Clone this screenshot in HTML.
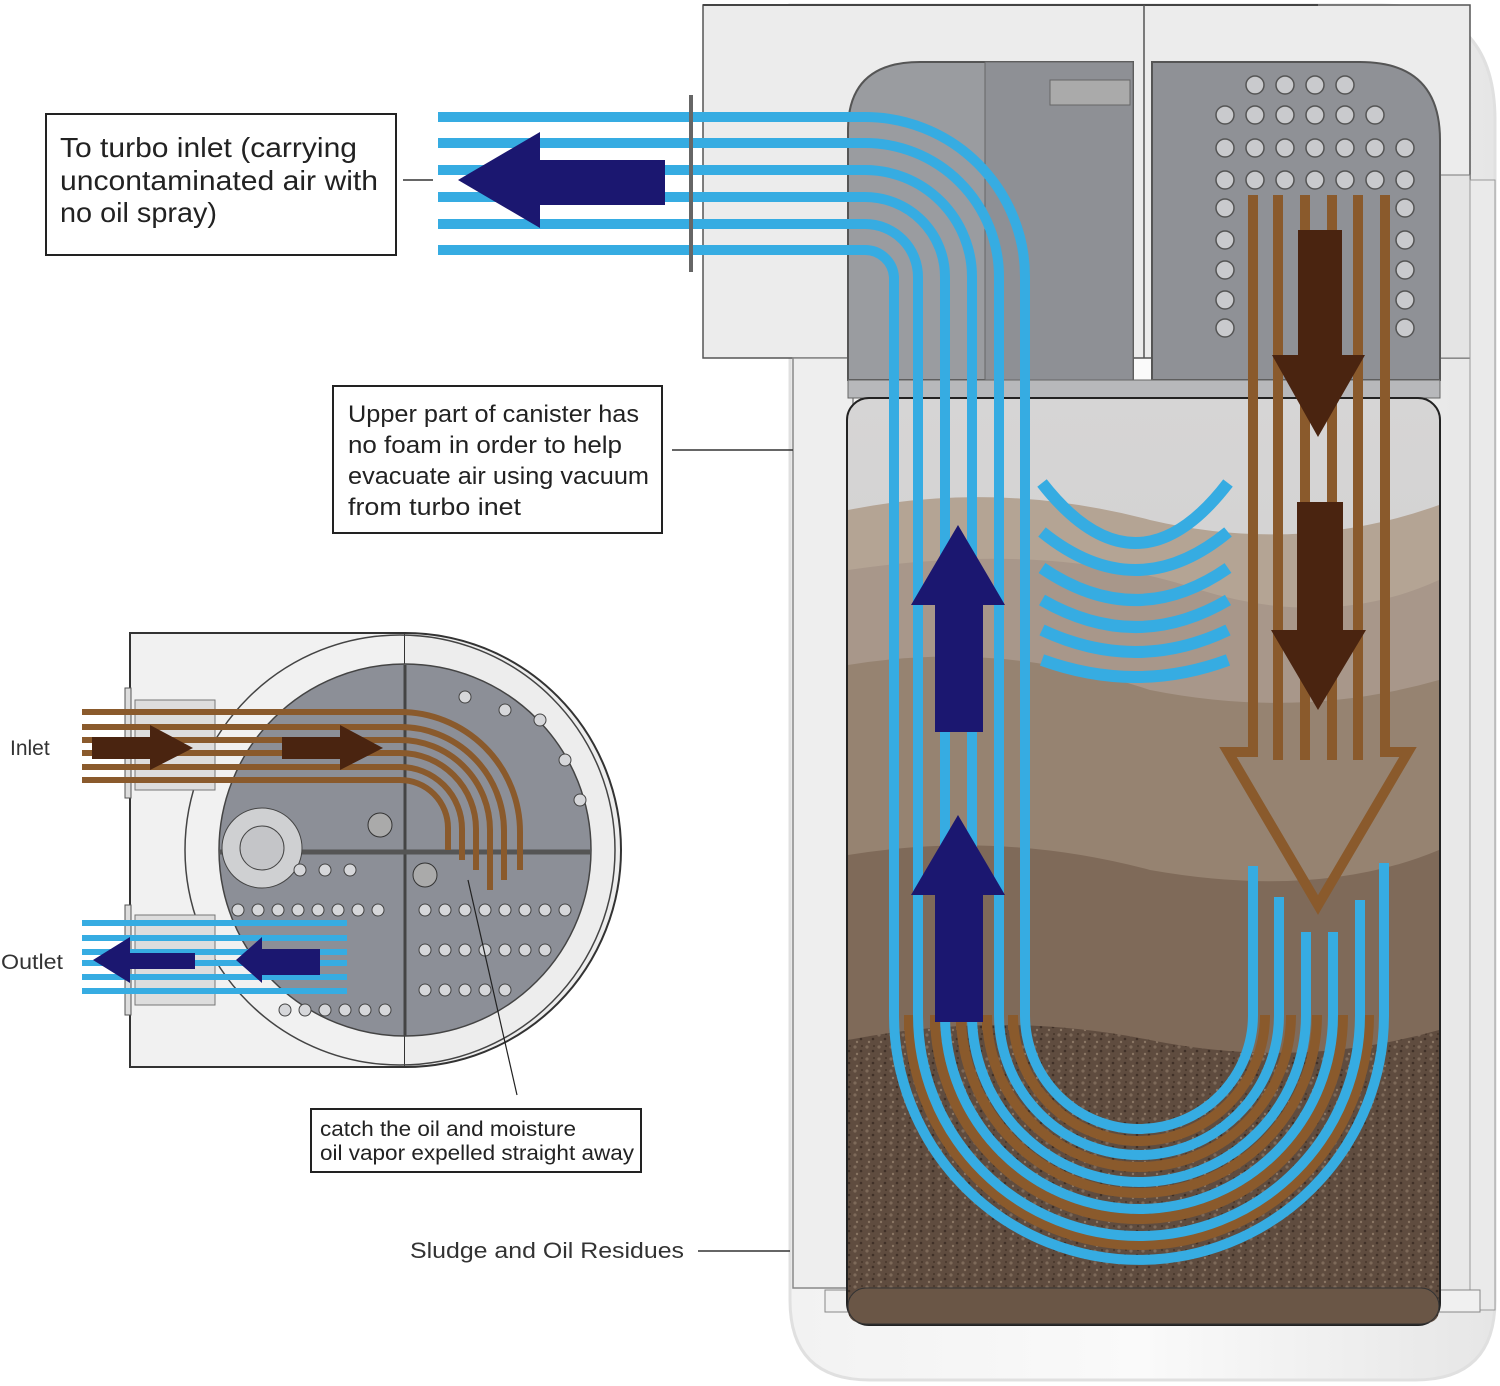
<!DOCTYPE html>
<html><head><meta charset="utf-8"><style>html,body{margin:0;padding:0;background:#fff}svg{display:block}</style></head><body>
<svg width="1500" height="1386" viewBox="0 0 1500 1386" xmlns="http://www.w3.org/2000/svg">
<defs>
<linearGradient id="tank" x1="0" y1="0" x2="0" y2="1">
<stop offset="0" stop-color="#d6d5d5"/><stop offset="1" stop-color="#c9c7c6"/></linearGradient>
<linearGradient id="body" x1="0" y1="0" x2="1" y2="0">
<stop offset="0" stop-color="#f2f2f2"/><stop offset="0.5" stop-color="#fafafa"/><stop offset="1" stop-color="#e6e6e6"/></linearGradient>
<pattern id="speck" width="12" height="12" patternUnits="userSpaceOnUse">
<rect width="12" height="12" fill="#5f4c3f"/><circle cx="3" cy="3" r="1.6" fill="#7e6a5a"/><circle cx="9" cy="7" r="1.3" fill="#3f3027"/><circle cx="5" cy="10" r="1.2" fill="#8a7664"/><circle cx="10" cy="2" r="1" fill="#463529"/></pattern>
</defs>
<path d="M790,5 H1380 Q1495,5 1495,120 V1300 Q1495,1380 1415,1380 H870 Q790,1380 790,1300 Z" fill="url(#body)" stroke="#e0e0e0" stroke-width="3"/>
<rect x="703" y="5" width="767" height="353" fill="#ececec" stroke="#555" stroke-width="1.5"/>
<line x1="703" y1="5" x2="1318" y2="5" stroke="#444" stroke-width="2"/>
<line x1="1144" y1="5" x2="1144" y2="358" stroke="#555" stroke-width="1.5"/>
<rect x="1440" y="175" width="30" height="183" fill="#e4e4e4" stroke="#777"/>
<rect x="1470" y="180" width="25" height="1130" fill="#eaeaea" stroke="#999"/>
<rect x="793" y="358" width="60" height="930" fill="#eeeeee" stroke="#888" stroke-width="1.5"/>
<rect x="825" y="1290" width="655" height="22" fill="#f0f0f0" stroke="#888"/>
<path d="M848,380 V130 Q848,62 920,62 H1133 V380 Z" fill="#9a9ca0" stroke="#555" stroke-width="2"/>
<rect x="985" y="62" width="148" height="318" fill="#8e9095" stroke="#666"/>
<rect x="1050" y="80" width="80" height="25" fill="#aaa" stroke="#666"/>
<path d="M1152,380 V62 H1360 Q1440,62 1440,140 V380 Z" fill="#8f9196" stroke="#555" stroke-width="2"/>
<g fill="#c9cacd" stroke="#555" stroke-width="1.5">
<circle cx="1255" cy="85" r="9"/><circle cx="1285" cy="85" r="9"/><circle cx="1315" cy="85" r="9"/><circle cx="1345" cy="85" r="9"/>
<circle cx="1225" cy="115" r="9"/><circle cx="1255" cy="115" r="9"/><circle cx="1285" cy="115" r="9"/><circle cx="1315" cy="115" r="9"/><circle cx="1345" cy="115" r="9"/><circle cx="1375" cy="115" r="9"/>
<circle cx="1225" cy="148" r="9"/><circle cx="1255" cy="148" r="9"/><circle cx="1285" cy="148" r="9"/><circle cx="1315" cy="148" r="9"/><circle cx="1345" cy="148" r="9"/><circle cx="1375" cy="148" r="9"/><circle cx="1405" cy="148" r="9"/>
<circle cx="1225" cy="180" r="9"/><circle cx="1255" cy="180" r="9"/><circle cx="1285" cy="180" r="9"/><circle cx="1315" cy="180" r="9"/><circle cx="1345" cy="180" r="9"/><circle cx="1375" cy="180" r="9"/><circle cx="1405" cy="180" r="9"/>
<circle cx="1225" cy="208" r="9"/><circle cx="1405" cy="208" r="9"/><circle cx="1225" cy="240" r="9"/><circle cx="1405" cy="240" r="9"/><circle cx="1225" cy="270" r="9"/><circle cx="1405" cy="270" r="9"/><circle cx="1225" cy="300" r="9"/><circle cx="1405" cy="300" r="9"/><circle cx="1225" cy="328" r="9"/><circle cx="1405" cy="328" r="9"/>
</g>
<rect x="848" y="380" width="592" height="18" fill="#b7b8bb" stroke="#666"/>
<rect x="847" y="398" width="593" height="927" rx="22" fill="url(#tank)" stroke="#222" stroke-width="2"/>
<g>
<path d="M848,510 Q1000,480 1150,520 Q1300,555 1439,505 V1300 H848 Z" fill="#b4a494"/>
<path d="M848,570 Q1050,540 1200,590 Q1330,630 1439,580 V1300 H848 Z" fill="#a8978a"/>
<path d="M848,665 Q1000,640 1150,690 Q1300,720 1439,680 V1300 H848 Z" fill="#968371"/>
<path d="M848,855 Q1000,830 1150,870 Q1320,900 1439,850 V1300 H848 Z" fill="#7f6a59"/>
<path d="M848,1040 Q1000,1010 1150,1040 Q1300,1070 1439,1030 V1310 Q1439,1324 1420,1324 H868 Q848,1324 848,1310 Z" fill="url(#speck)"/>
<rect x="848" y="1288" width="591" height="36" rx="18" fill="#6a5646" stroke="#333"/>
</g>
<g fill="none" stroke="#36ace2" stroke-width="12">
<path d="M1042,483 Q1136,603 1228,483"/>
<path d="M1042,532 Q1136,608 1228,532"/>
<path d="M1042,568 Q1136,632 1228,568"/>
<path d="M1042,600 Q1136,654 1228,600"/>
<path d="M1042,630 Q1136,674 1228,630"/>
<path d="M1042,660 Q1136,694 1228,660"/>
</g>
<g stroke="#8a5a2c" stroke-width="10" fill="none">
<line x1="1278" y1="195" x2="1278" y2="760"/><line x1="1305" y1="195" x2="1305" y2="760"/><line x1="1332" y1="195" x2="1332" y2="760"/><line x1="1358" y1="195" x2="1358" y2="760"/>
<path d="M1253,195 V752 H1228 L1318,905 L1408,752 H1385 V195"/>
</g>
<g fill="none" stroke="#8a5a2c" stroke-width="10">
<path d="M1013,1030 V1015 A126,126 0 0 0 1265,1015"/>
<path d="M987,1030 V1015 A152,152 0 0 0 1291,1015"/>
<path d="M961,1030 V1015 A178,178 0 0 0 1317,1015"/>
<path d="M935,1030 V1015 A204,204 0 0 0 1343,1015"/>
<path d="M909,1030 V1015 A230,230 0 0 0 1369,1015"/>
</g>
<g fill="none" stroke="#36ace2" stroke-width="10">
<path d="M438,117 H865 A160,160 0 0 1 1025,277 V1015 A114,114 0 0 0 1253,1015 V866"/>
<path d="M438,143 H865 A134,134 0 0 1 999,277 V1015 A140,140 0 0 0 1279,1015 V897"/>
<path d="M438,170 H865 A107,107 0 0 1 972,277 V1015 A167,167 0 0 0 1306,1015 V932"/>
<path d="M438,197 H865 A80,80 0 0 1 945,277 V1015 A194,194 0 0 0 1333,1015 V932"/>
<path d="M438,224 H865 A53,53 0 0 1 918,277 V1015 A221,221 0 0 0 1360,1015 V900"/>
<path d="M438,250 H865 A29,29 0 0 1 894,277 V1015 A245,245 0 0 0 1384,1015 V863"/>
</g>
<line x1="691" y1="95" x2="691" y2="272" stroke="#666" stroke-width="4"/>
<g fill="#1b1770">
<polygon points="458,180 540,132 540,160 665,160 665,205 540,205 540,228"/>
<polygon points="958,525 1005,605 983,605 983,732 935,732 935,605 911,605"/>
<polygon points="958,815 1005,895 983,895 983,1022 935,1022 935,895 911,895"/>
</g>
<g fill="#4a2410">
<polygon points="1298,230 1342,230 1342,355 1365,355 1318,437 1272,355 1298,355"/>
<polygon points="1297,502 1343,502 1343,630 1366,630 1318,710 1271,630 1297,630"/>
</g>
<g font-family="'Liberation Sans Narrow','Liberation Sans',sans-serif" fill="#222">
<rect x="46" y="114" width="350" height="141" fill="#fff" stroke="#222" stroke-width="2"/>
<text x="60" y="157" font-size="28" textLength="297" lengthAdjust="spacingAndGlyphs">To turbo inlet (carrying</text>
<text x="60" y="190" font-size="28" textLength="318" lengthAdjust="spacingAndGlyphs">uncontaminated air with</text>
<text x="60" y="222" font-size="28" textLength="157" lengthAdjust="spacingAndGlyphs">no oil spray)</text>
<rect x="333" y="386" width="329" height="147" fill="#fff" stroke="#222" stroke-width="2"/>
<text x="348" y="422" font-size="24" textLength="291" lengthAdjust="spacingAndGlyphs">Upper part of canister has</text>
<text x="348" y="453" font-size="24" textLength="274" lengthAdjust="spacingAndGlyphs">no foam in order to help</text>
<text x="348" y="484" font-size="24" textLength="301" lengthAdjust="spacingAndGlyphs">evacuate air using vacuum</text>
<text x="348" y="515" font-size="24" textLength="173" lengthAdjust="spacingAndGlyphs">from turbo inet</text>
</g>
<line x1="403" y1="180" x2="433" y2="180" stroke="#333" stroke-width="1.5"/>
<line x1="672" y1="450" x2="793" y2="450" stroke="#333" stroke-width="1.5"/>
<rect x="130" y="633" width="275" height="434" fill="#f1f1f1" stroke="#333" stroke-width="2"/>
<path d="M405,633 A216,217 0 0 1 405,1067" fill="#ededed" stroke="#333" stroke-width="2"/>
<circle cx="400" cy="850" r="215" fill="none" stroke="#444" stroke-width="1.5"/>
<rect x="125" y="688" width="6" height="110" fill="#ddd" stroke="#555"/>
<rect x="125" y="905" width="6" height="110" fill="#ddd" stroke="#555"/>
<rect x="135" y="700" width="80" height="90" fill="#ddd" stroke="#777"/>
<rect x="135" y="915" width="80" height="90" fill="#ddd" stroke="#777"/>
<circle cx="405" cy="850" r="186" fill="#8c8f97" stroke="#444" stroke-width="1.5"/>
<line x1="405" y1="665" x2="405" y2="1036" stroke="#444" stroke-width="3"/>
<line x1="219" y1="852" x2="590" y2="852" stroke="#555" stroke-width="5"/>
<circle cx="262" cy="848" r="40" fill="#cfd0d2" stroke="#444"/><circle cx="262" cy="848" r="22" fill="#c4c5c8" stroke="#444"/>
<circle cx="380" cy="825" r="12" fill="#aaa" stroke="#333"/><circle cx="425" cy="875" r="12" fill="#aaa" stroke="#333"/>
<g fill="#d6d7da" stroke="#444" stroke-width="1">
<circle cx="238" cy="910" r="6"/><circle cx="258" cy="910" r="6"/><circle cx="278" cy="910" r="6"/><circle cx="298" cy="910" r="6"/><circle cx="318" cy="910" r="6"/><circle cx="338" cy="910" r="6"/><circle cx="358" cy="910" r="6"/><circle cx="378" cy="910" r="6"/>
<circle cx="285" cy="1010" r="6"/><circle cx="305" cy="1010" r="6"/><circle cx="325" cy="1010" r="6"/><circle cx="345" cy="1010" r="6"/><circle cx="365" cy="1010" r="6"/><circle cx="385" cy="1010" r="6"/>
<circle cx="425" cy="910" r="6"/><circle cx="445" cy="910" r="6"/><circle cx="465" cy="910" r="6"/><circle cx="485" cy="910" r="6"/><circle cx="505" cy="910" r="6"/><circle cx="525" cy="910" r="6"/><circle cx="545" cy="910" r="6"/><circle cx="565" cy="910" r="6"/>
<circle cx="425" cy="950" r="6"/><circle cx="445" cy="950" r="6"/><circle cx="465" cy="950" r="6"/><circle cx="485" cy="950" r="6"/><circle cx="505" cy="950" r="6"/><circle cx="525" cy="950" r="6"/><circle cx="545" cy="950" r="6"/>
<circle cx="425" cy="990" r="6"/><circle cx="445" cy="990" r="6"/><circle cx="465" cy="990" r="6"/><circle cx="485" cy="990" r="6"/><circle cx="505" cy="990" r="6"/>
<circle cx="300" cy="870" r="6"/><circle cx="325" cy="870" r="6"/><circle cx="350" cy="870" r="6"/>
<circle cx="540" cy="720" r="6"/><circle cx="565" cy="760" r="6"/><circle cx="580" cy="800" r="6"/><circle cx="505" cy="710" r="6"/><circle cx="465" cy="697" r="6"/>
</g>
<g fill="none" stroke="#8a5a2c" stroke-width="6">
<path d="M82,712 H400 A120,120 0 0 1 520,832 V870"/>
<path d="M82,727 H400 A104,104 0 0 1 504,831 V880"/>
<path d="M82,740 H400 A90,90 0 0 1 490,830 V890"/>
<path d="M82,753 H400 A76,76 0 0 1 476,829 V870"/>
<path d="M82,767 H400 A62,62 0 0 1 462,829 V860"/>
<path d="M82,780 H400 A48,48 0 0 1 448,828 V850"/>
</g>
<g fill="none" stroke="#36ace2" stroke-width="6">
<line x1="82" y1="923" x2="347" y2="923"/><line x1="82" y1="938" x2="347" y2="938"/><line x1="82" y1="952" x2="347" y2="952"/><line x1="82" y1="963" x2="347" y2="963"/><line x1="82" y1="977" x2="347" y2="977"/><line x1="82" y1="991" x2="347" y2="991"/>
</g>
<g fill="#4a2410">
<polygon points="92,737 150,737 150,725 193,748 150,770 150,759 92,759"/>
<polygon points="282,737 340,737 340,725 383,748 340,770 340,759 282,759"/>
</g>
<g fill="#1b1770">
<polygon points="93,960 130,937 130,953 195,953 195,969 130,969 130,983"/>
<polygon points="236,960 262,937 262,949 320,949 320,975 262,975 262,983"/>
</g>
<line x1="517" y1="1095" x2="468" y2="880" stroke="#222" stroke-width="1.2"/>
<rect x="311" y="1109" width="330" height="63" fill="#fff" stroke="#222" stroke-width="2"/>
<g font-family="'Liberation Sans',sans-serif" fill="#222">
<text x="320" y="1136" font-size="21" textLength="256" lengthAdjust="spacingAndGlyphs">catch the oil and moisture</text>
<text x="320" y="1160" font-size="21" textLength="314" lengthAdjust="spacingAndGlyphs">oil vapor expelled straight away</text>
<text x="410" y="1258" font-size="22" fill="#333" textLength="274" lengthAdjust="spacingAndGlyphs">Sludge and Oil Residues</text>
<text x="10" y="755" font-size="21" fill="#333">Inlet</text>
<text x="1" y="969" font-size="21" fill="#333" textLength="62" lengthAdjust="spacingAndGlyphs">Outlet</text>
</g>
<line x1="698" y1="1251" x2="790" y2="1251" stroke="#333" stroke-width="1.5"/>
</svg>
</body></html>
